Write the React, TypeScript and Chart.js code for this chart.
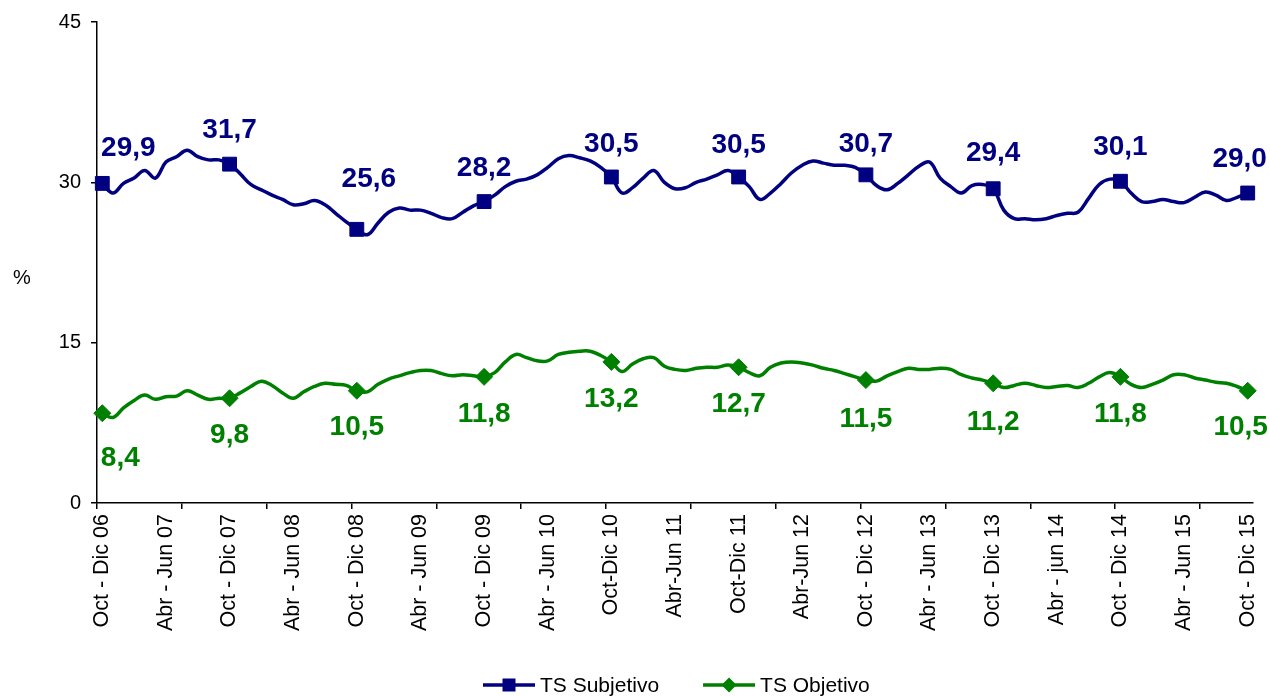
import React, { useEffect, useRef } from 'react';
import { Chart, registerables } from 'chart.js';

Chart.register(...registerables);

// Tick labels shown every 6 months (rolling quarters)
const tickLabels = [
  'Oct - Dic 06', 'Abr - Jun 07', 'Oct - Dic 07', 'Abr - Jun 08', 'Oct - Dic 08',
  'Abr - Jun 09', 'Oct - Dic 09', 'Abr - Jun 10', 'Oct-Dic 10', 'Abr-Jun 11',
  'Oct-Dic 11', 'Abr-Jun 12', 'Oct - Dic 12', 'Abr - Jun 13', 'Oct - Dic 13',
  'Abr - jun 14', 'Oct - Dic 14', 'Abr - Jun 15', 'Oct - Dic 15',
];
const monthAbbr = ['Ene', 'Feb', 'Mar', 'Abr', 'May', 'Jun', 'Jul', 'Ago', 'Sep', 'Oct', 'Nov', 'Dic'];

const subjetivo = [
  29.9, 29.0, 29.9, 30.4, 31.1, 30.4, 31.9, 32.4, 33.0, 32.4, 32.1, 32.1,
  31.7, 30.8, 29.8, 29.3, 28.8, 28.4, 27.9, 28.0, 28.3, 27.9, 27.1, 26.3,
  25.6, 25.1, 26.2, 27.2, 27.6, 27.4, 27.4, 27.1, 26.7, 26.6, 27.2, 27.8,
  28.2, 28.8, 29.6, 30.1, 30.3, 30.7, 31.4, 32.2, 32.5, 32.3, 32.0, 31.4,
  30.5, 29.0, 29.5, 30.4, 31.1, 30.0, 29.4, 29.5, 30.0, 30.3, 30.7, 31.1,
  30.5, 29.6, 28.4, 29.0, 29.9, 30.9, 31.6, 32.0, 31.8, 31.6, 31.6, 31.4,
  30.7, 29.7, 29.3, 29.9, 30.7, 31.5, 31.9, 30.4, 29.6, 29.0, 29.7, 29.8,
  29.4, 27.4, 26.6, 26.6, 26.5, 26.6, 26.9, 27.1, 27.2, 28.5, 29.8, 30.3,
  30.1, 29.0, 28.2, 28.2, 28.4, 28.2, 28.1, 28.6, 29.1, 28.8, 28.3, 28.6,
  29.0,
];

const objetivo = [
  8.4, 8.0, 8.9, 9.6, 10.1, 9.7, 9.95, 10.0, 10.5, 10.1, 9.7, 9.8,
  9.8, 10.3, 10.9, 11.4, 11.0, 10.3, 9.8, 10.4, 10.9, 11.2, 11.1, 11.0,
  10.5, 10.4, 11.1, 11.6, 11.9, 12.2, 12.4, 12.4, 12.1, 11.9, 12.0, 11.9,
  11.8, 12.2, 13.2, 13.9, 13.6, 13.3, 13.3, 13.9, 14.1, 14.2, 14.2, 13.8,
  13.2, 12.3, 13.0, 13.5, 13.6, 12.8, 12.5, 12.4, 12.6, 12.7, 12.7, 12.9,
  12.7, 12.2, 11.9, 12.7, 13.1, 13.2, 13.1, 12.9, 12.6, 12.4, 12.1, 11.8,
  11.5, 11.4, 11.9, 12.3, 12.6, 12.5, 12.5, 12.6, 12.5, 12.0, 11.7, 11.5,
  11.2, 10.8, 11.0, 11.2, 11.0, 10.8, 10.9, 11.0, 10.8, 11.2, 11.8, 12.2,
  11.8, 11.1, 10.8, 11.1, 11.5, 12.0, 12.0, 11.7, 11.5, 11.3, 11.2, 10.9,
  10.5,
];

const yTicks = [0, 15, 30, 45];
const seriesNames = ['TS Subjetivo', 'TS Objetivo'];

const categories = subjetivo.map((_, i) => {
  if (i % 6 === 0) return tickLabels[i / 6];
  const start = (9 + i) % 12;
  const end = (start + 2) % 12;
  const yy = 6 + Math.floor((11 + i) / 12);
  return `${monthAbbr[start]}-${monthAbbr[end]} ${String(yy).padStart(2, '0')}`;
});

// style: label offsets (dx, dy) for the yearly labelled points
const subjLabelOffsets = [[26, -35], [0, -34], [12, -50], [0, -33], [0, -33], [0, -32], [0, -31], [0, -35], [0, -34], [-8, -34]];
const objLabelOffsets = [[18, 45], [0, 37], [0, 37], [0, 37], [0, 37], [0, 37], [0, 39], [0, 39], [0, 37], [-7, 37]];

const BLUE = '#000080';
const GREEN = '#008000';
const FONT = '"Liberation Sans", Arial, Helvetica, sans-serif';

const fmt = (v: number) => v.toFixed(1).replace('.', ',');

const valueLabelPlugin = {
  id: 'valueLabels',
  afterDatasetsDraw(chart: any) {
    const ctx = chart.ctx;
    chart.data.datasets.forEach((ds: any, di: number) => {
      const meta = chart.getDatasetMeta(di);
      const offs = di === 0 ? subjLabelOffsets : objLabelOffsets;
      ctx.save();
      ctx.font = `bold 28px ${FONT}`;
      ctx.fillStyle = ds.borderColor;
      ctx.textAlign = 'center';
      ctx.textBaseline = 'middle';
      meta.data.forEach((pt: any, i: number) => {
        if (i % 12 !== 0) return;
        const [dx, dy] = offs[i / 12];
        ctx.fillText(fmt(ds.data[i]), pt.x + dx, pt.y + dy);
      });
      ctx.restore();
    });
  },
};

const decorPlugin = {
  id: 'decor',
  afterDraw(chart: any) {
    const ctx = chart.ctx;
    ctx.save();
    // y-axis unit
    ctx.font = `20px ${FONT}`;
    ctx.fillStyle = '#000';
    ctx.textAlign = 'center';
    ctx.textBaseline = 'middle';
    ctx.fillText('%', 22, 278);

    // legend
    const y = 685;
    let x = 483;
    ctx.font = `21px ${FONT}`;
    ctx.textAlign = 'left';
    chart.data.datasets.forEach((ds: any, di: number) => {
      ctx.strokeStyle = ds.borderColor;
      ctx.fillStyle = ds.borderColor;
      ctx.lineWidth = 3.5;
      ctx.beginPath();
      ctx.moveTo(x, y);
      ctx.lineTo(x + 52, y);
      ctx.stroke();
      const cx = x + 26;
      ctx.beginPath();
      if (di === 0) {
        ctx.rect(cx - 6.5, y - 6.5, 13, 13);
      } else {
        ctx.moveTo(cx - 7.5, y);
        ctx.lineTo(cx, y - 7.5);
        ctx.lineTo(cx + 7.5, y);
        ctx.lineTo(cx, y + 7.5);
        ctx.closePath();
      }
      ctx.fill();
      ctx.fillStyle = '#000';
      ctx.fillText(ds.label, x + 57, y + 1);
      x += 57 + ctx.measureText(ds.label).width + 44;
    });
    ctx.restore();
  },
};

export default function App() {
  const canvasRef = useRef<HTMLCanvasElement | null>(null);

  useEffect(() => {
    const canvas = canvasRef.current;
    if (!canvas) return;
    const chart = new Chart(canvas, {
      type: 'line',
      data: {
        labels: categories,
        datasets: [
          {
            label: seriesNames[0],
            data: subjetivo,
            borderColor: BLUE,
            backgroundColor: BLUE,
            borderWidth: 3.5,
            tension: 0.4,
            pointStyle: 'rect',
            pointRadius: (c: any) => (c.dataIndex % 12 === 0 ? 9.8 : 0),
            pointBorderWidth: 1,
            pointBackgroundColor: BLUE,
            pointBorderColor: BLUE,
            fill: false,
          },
          {
            label: seriesNames[1],
            data: objetivo,
            borderColor: GREEN,
            backgroundColor: GREEN,
            borderWidth: 3.5,
            tension: 0.4,
            pointStyle: 'rectRot',
            pointRadius: (c: any) => (c.dataIndex % 12 === 0 ? 8.5 : 0),
            pointBorderWidth: 1,
            pointBackgroundColor: GREEN,
            pointBorderColor: GREEN,
            fill: false,
          },
        ],
      },
      options: {
        responsive: false,
        animation: false,
        events: [],
        layout: { padding: { top: 22, right: 17, left: 0, bottom: 0 } },
        plugins: {
          legend: { display: false },
          tooltip: { enabled: false },
        },
        scales: {
          x: {
            type: 'category',
            offset: true,
            grid: {
              offset: true,
              drawOnChartArea: false,
              drawTicks: true,
              tickLength: 6,
              lineWidth: 1.5,
              color: (c: any) => (c.index % 8 === 0 ? '#000' : 'rgba(0,0,0,0)'),
            },
            border: { display: true, color: '#000', width: 1.5 },
            ticks: {
              autoSkip: false,
              minRotation: 90,
              maxRotation: 90,
              padding: 5,
              color: '#000',
              font: { family: FONT, size: 21.5 },
              callback: (_v: any, i: number) => (i % 6 === 0 ? categories[i] : ''),
            },
            afterFit: (s: any) => {
              s.height = 193;
              s.paddingLeft = 0;
              s.paddingRight = 0;
            },
          },
          y: {
            min: 0,
            max: 45,
            ticks: {
              stepSize: 15,
              padding: 10,
              color: '#000',
              font: { family: FONT, size: 20 },
            },
            afterBuildTicks: (s: any) => {
              s.ticks = yTicks.map((v) => ({ value: v }));
            },
            grid: {
              drawOnChartArea: false,
              drawTicks: true,
              tickLength: 6,
              lineWidth: 1.5,
              color: '#000',
            },
            border: { display: true, color: '#000', width: 1.5 },
            afterFit: (s: any) => {
              s.width = 97;
              s.paddingTop = 0;
              s.paddingBottom = 0;
            },
          },
        },
      },
      plugins: [valueLabelPlugin, decorPlugin],
    } as any);
    return () => chart.destroy();
  }, []);

  return (
    <div style={{ position: 'fixed', left: 0, top: 0, width: 1270, height: 696, background: '#fff' }}>
      <canvas ref={canvasRef} width={1270} height={696} style={{ display: 'block' }} />
    </div>
  );
}
